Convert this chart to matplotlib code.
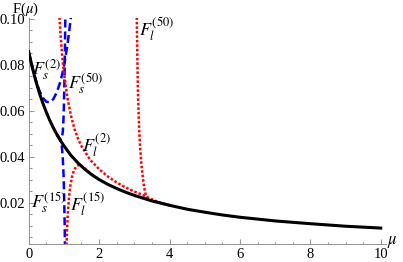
import matplotlib
matplotlib.use("Agg")
import matplotlib.pyplot as plt
from matplotlib.ticker import MultipleLocator, FormatStrFormatter

plt.rcParams['font.family'] = ['Liberation Serif', 'DejaVu Serif']
plt.rcParams['mathtext.fontset'] = 'stix'

# exact F(mu)
mu_exact = [0, 0.1, 0.2, 0.3, 0.4, 0.5, 0.6, 0.7, 0.8, 0.9, 1.0, 1.2, 1.4, 1.6, 1.8,
            2.0, 2.25, 2.5, 2.75, 3.0, 3.5, 4.0, 4.5, 5.0, 5.5, 6.0, 7.0, 8.0, 9.0, 10.0]
F_exact = [0.0855, 0.0789, 0.0730, 0.0678, 0.0633, 0.0593, 0.0557, 0.0525, 0.0496, 0.0470,
           0.0447, 0.0405, 0.0372, 0.0344, 0.0320, 0.0300, 0.0279, 0.0261, 0.0245, 0.0231,
           0.0207, 0.0188, 0.0171, 0.0158, 0.0146, 0.0136, 0.0120, 0.0108, 0.0097, 0.0089]

# small-mu expansions (blue dashed)
mu_s2 = [0, 0.1, 0.2, 0.3, 0.4, 0.5, 0.6, 0.7, 0.8, 0.9, 1.0, 1.1, 1.2]
F_s2 = [0.0855, 0.0790, 0.0733, 0.0688, 0.0656, 0.0638, 0.0636, 0.0650, 0.0680, 0.0725,
        0.0790, 0.0885, 0.1005]
mu_s15 = [0.8, 0.9, 0.94, 0.97, 0.99, 1.0, 1.01, 1.02, 1.03]
F_s15 = [0.0496, 0.0470, 0.0446, 0.0390, 0.0320, 0.0270, 0.0200, 0.0120, 0.0015]
mu_s50 = [0.8, 0.9, 0.94, 0.97, 0.99, 1.0, 1.01, 1.02, 1.03, 1.04]
F_s50 = [0.0496, 0.0472, 0.0475, 0.0510, 0.0570, 0.0620, 0.0690, 0.0770, 0.0870, 0.1005]

# large-mu expansions (red dotted)
mu_l2 = [0.875, 0.9, 0.95, 1.0, 1.1, 1.2, 1.3, 1.4, 1.5, 1.75, 2.0, 2.25, 2.5, 2.75,
         3.0, 3.25, 3.5, 3.75, 4.0]
F_l2 = [0.1005, 0.0940, 0.0840, 0.0765, 0.0655, 0.0578, 0.0520, 0.0478, 0.0445, 0.0385,
        0.0345, 0.0313, 0.0287, 0.0266, 0.0248, 0.0232, 0.0214, 0.0198, 0.0189]
mu_l15 = [1.075, 1.09, 1.11, 1.14, 1.18, 1.23, 1.29, 1.36, 1.45, 1.6, 1.8, 2.0]
F_l15 = [0.0015, 0.0080, 0.0150, 0.0215, 0.0270, 0.0312, 0.0342, 0.0358, 0.0366, 0.0347,
         0.0321, 0.0301]
mu_l50 = [3.07, 3.08, 3.09, 3.10, 3.12, 3.14, 3.17, 3.20, 3.24, 3.28, 3.33, 3.40, 3.50,
          3.70, 4.0]
F_l50 = [0.1005, 0.0900, 0.0800, 0.0700, 0.0600, 0.0510, 0.0430, 0.0370, 0.0310, 0.0265,
         0.0230, 0.0212, 0.0207, 0.0199, 0.0188]

labels = [r'$F_s^{(2)}$', r'$F_s^{(50)}$', r'$F_l^{(2)}$',
          r'$F_s^{(15)}$', r'$F_l^{(15)}$', r'$F_l^{(50)}$']
label_x = [0.50, 1.62, 1.93, 0.56, 1.67, 3.63]
label_y = [0.0780, 0.0717, 0.0451, 0.0199, 0.0194, 0.0952]

fig = plt.figure(figsize=(4.03, 2.62), dpi=100)
ax = fig.add_axes([0.0712, 0.0672, 0.8866, 0.8656])

blue_dash = (0, (3.2, 1.6))
red_dot = (0, (1.0, 0.8))
for m, f in [(mu_s2, F_s2), (mu_s15, F_s15), (mu_s50, F_s50)]:
    ax.plot(m, f, color='blue', lw=1.8, linestyle=blue_dash, zorder=2)
for m, f in [(mu_l2, F_l2), (mu_l15, F_l15), (mu_l50, F_l50)]:
    ax.plot(m, f, color='red', lw=1.8, linestyle=red_dot, zorder=2)
ax.plot(mu_exact, F_exact, color='black', lw=2.2, zorder=3)

for t, x, y in zip(labels, label_x, label_y):
    ax.text(x, y, t, fontsize=13, ha='center', va='center', zorder=4)

ax.set_xlim(0, 10.15)
ax.set_ylim(0.0018, 0.1004)
for s in ['top', 'right']:
    ax.spines[s].set_visible(False)
for s in ['left', 'bottom']:
    ax.spines[s].set_color('#999999')
    ax.spines[s].set_linewidth(0.8)

ax.set_xticks([0, 2, 4, 6, 8, 10])
ax.set_yticks([0.02, 0.04, 0.06, 0.08, 0.10])
ax.yaxis.set_major_formatter(FormatStrFormatter('%.2f'))
ax.xaxis.set_minor_locator(MultipleLocator(0.5))
ax.yaxis.set_minor_locator(MultipleLocator(0.005))
ax.tick_params(which='both', direction='in', color='#999999', width=0.8,
               labelsize=10.5, pad=2.5)
ax.tick_params(which='major', length=3.6)
ax.tick_params(which='minor', length=1.8)

fig.text(25 / 403, 1 - 0.5 / 262, r'F($\mu$)', fontsize=10.5, ha='center', va='top')
fig.text(392 / 403, 1 - 242 / 262, r'$\mu$', fontsize=12, ha='center', va='center')

fig.savefig('out.png', dpi=100)
